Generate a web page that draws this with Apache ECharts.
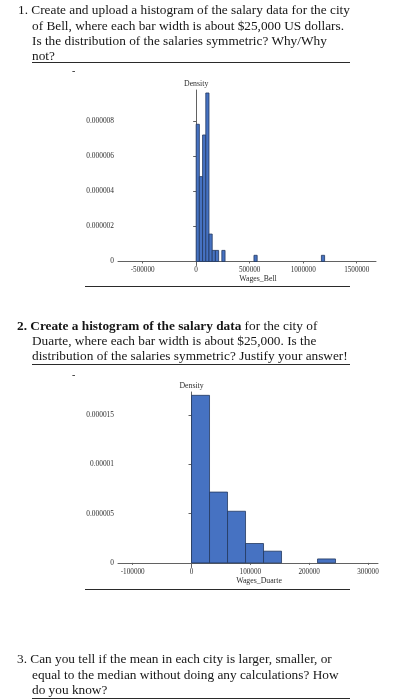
<!DOCTYPE html>
<html>
<head>
<meta charset="utf-8">
<script src="https://cdn.jsdelivr.net/npm/echarts@6/dist/echarts.min.js"></script>
<style>
  html, body { margin: 0; padding: 0; background: #fff; }
  #page { position: relative; width: 395px; height: 700px; overflow: hidden; }
  #chart { position: absolute; left: 0; top: 0; width: 395px; height: 700px; }
  .ln { position: absolute; white-space: nowrap; font-family: 'Liberation Serif', serif; font-size: 13.3px; color: #161616; line-height: 16px; }
  .rule { position: absolute; height: 0; border-top: 1px solid #2a2a2a; }
</style>
</head>
<body>
<div id="page">
  <div id="chart"></div>

  <div class="ln" style="left:18px;top:2px">1. Create and upload a histogram of the salary data for the city</div>
  <div class="ln" style="left:32px;top:18px">of Bell, where each bar width is about $25,000 US dollars.</div>
  <div class="ln" style="left:32px;top:33px">Is the distribution of the salaries symmetric? Why/Why</div>
  <div class="ln" style="left:32px;top:48px">not?</div>
  <div class="rule" style="left:32px;top:62px;width:318px"></div>
  <div class="ln" style="left:72px;top:63px;font-size:10px">-</div>
  <div class="rule" style="left:85px;top:286px;width:265px"></div>

  <div class="ln" style="left:17px;top:318px"><b>2. Create a histogram of the salary data</b> for the city of</div>
  <div class="ln" style="left:32px;top:333px">Duarte, where each bar width is about $25,000. Is the</div>
  <div class="ln" style="left:32px;top:348px">distribution of the salaries symmetric? Justify your answer!</div>
  <div class="rule" style="left:32px;top:364px;width:318px"></div>
  <div class="ln" style="left:72px;top:367px;font-size:10px">-</div>
  <div class="rule" style="left:85px;top:589px;width:265px"></div>

  <div class="ln" style="left:17px;top:651px">3. Can you tell if the mean in each city is larger, smaller, or</div>
  <div class="ln" style="left:32px;top:667px">equal to the median without doing any calculations? How</div>
  <div class="ln" style="left:32px;top:682px">do you know?</div>
  <div class="rule" style="left:32px;top:698px;width:318px"></div>
</div>
<script>
// Bell: left edge of each bin, bin width and density
const bellLeft = [0, 30000, 60000, 90000, 120000, 150000, 180000, 240000, 540000, 1170000];
const bellWidth = 30000;
const bellDensity = [7.81e-6, 4.83e-6, 7.20e-6, 9.59e-6, 1.56e-6, 0.63e-6, 0.63e-6, 0.63e-6, 0.35e-6, 0.35e-6];
const bellXTicks = [-500000, 0, 500000, 1000000, 1500000];
const bellYTicks = [0, 2e-6, 4e-6, 6e-6, 8e-6];

// Duarte
const duarteLeft = [0, 30600, 61200, 91800, 122400, 214200];
const duarteWidth = 30600;
const duarteDensity = [17.04e-6, 7.2e-6, 5.25e-6, 1.97e-6, 1.19e-6, 0.4e-6];
const duarteXTicks = [-100000, 0, 100000, 200000, 300000];
const duarteYTicks = [0, 5e-6, 10e-6, 15e-6];

const chart = echarts.init(document.getElementById('chart'), null, { renderer: 'canvas' });

const serif = 'Liberation Serif';
const axisColor = '#626262';
const labelColor = '#2e2e2e';

function binData(left, width, dens) {
  return left.map((l, i) => [l, l + width, dens[i]]);
}

function renderBar(params, api) {
  const p0 = api.coord([api.value(0), api.value(2)]);
  const p1 = api.coord([api.value(1), 0]);
  return {
    type: 'rect',
    shape: { x: p0[0], y: p0[1], width: p1[0] - p0[0], height: p1[1] - p0[1] },
    style: { fill: '#4672c2', stroke: '#23395f', lineWidth: 0.8 }
  };
}

function fmtY(v) {
  if (v === 0) return '0';
  return v.toFixed(6).replace(/0+$/, '');
}

function xAxisOf(idx, min, max, ticks, name) {
  return {
    type: 'value', gridIndex: idx, min: min, max: max,
    splitLine: { show: false },
    axisLine: { lineStyle: { color: axisColor, width: 1 } },
    axisTick: { customValues: ticks, length: 2, lineStyle: { color: axisColor } },
    axisLabel: { customValues: ticks, margin: 1, fontFamily: serif, fontSize: 7.2, color: labelColor,
      formatter: v => String(v) },
    name: name, nameLocation: 'middle', nameGap: 9,
    nameTextStyle: { fontFamily: serif, fontSize: 7.8, color: labelColor, padding: [0, 0, 0, 22] }
  };
}

function yAxisOf(idx, min, max, ticks) {
  return {
    type: 'value', gridIndex: idx, min: min, max: max,
    splitLine: { show: false },
    axisLine: { show: true, lineStyle: { color: axisColor, width: 1 } },
    axisTick: { show: true, customValues: ticks, length: 3, lineStyle: { color: axisColor } },
    axisLabel: { customValues: ticks, margin: 4, fontFamily: serif, fontSize: 7.4, color: labelColor,
      formatter: fmtY },
    name: 'Density', nameLocation: 'end', nameGap: 2,
    nameTextStyle: { fontFamily: serif, fontSize: 7.8, color: labelColor }
  };
}

const option = {
  animation: false,
  grid: [
    { left: 118, top: 90, width: 258, height: 175.5 },
    { left: 118, top: 392, width: 260, height: 175.5 }
  ],
  xAxis: [
    xAxisOf(0, -730000, 1680000, bellXTicks, 'Wages_Bell'),
    xAxisOf(1, -125000, 317000, duarteXTicks, 'Wages_Duarte')
  ],
  yAxis: [
    yAxisOf(0, -0.23e-6, 9.76e-6, bellYTicks),
    yAxisOf(1, -0.47e-6, 17.38e-6, duarteYTicks)
  ],
  series: [
    { type: 'custom', xAxisIndex: 0, yAxisIndex: 0, renderItem: renderBar,
      encode: { x: [0, 1], y: 2 }, data: binData(bellLeft, bellWidth, bellDensity) },
    { type: 'custom', xAxisIndex: 1, yAxisIndex: 1, renderItem: renderBar,
      encode: { x: [0, 1], y: 2 }, data: binData(duarteLeft, duarteWidth, duarteDensity) }
  ]
};

chart.setOption(option);
</script>
</body>
</html>
